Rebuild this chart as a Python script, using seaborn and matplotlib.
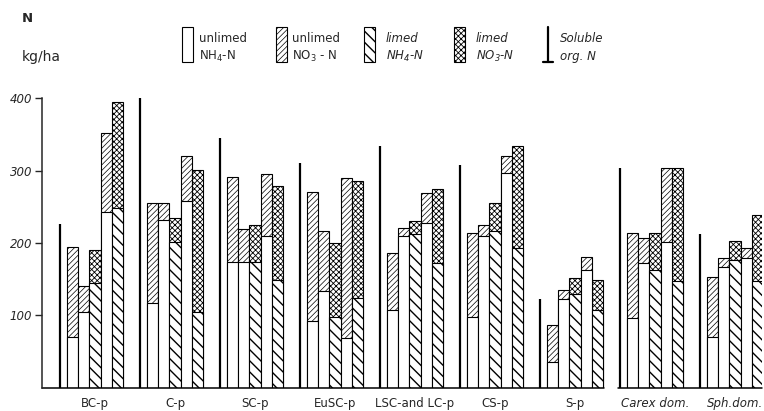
import numpy as np
import pandas as pd
import matplotlib
matplotlib.use("Agg")
import matplotlib.pyplot as plt
import seaborn as sns
from matplotlib.patches import Rectangle
from matplotlib.lines import Line2D

# sites along the x axis
sites = ["BC-p", "C-p", "SC-p", "EuSC-p", "LSC-and LC-p", "CS-p", "S-p",
         "Carex dom.", "Sph.dom."]

# soluble organic N (the plain vertical line in front of each group)
org_n = [226, 401, 345, 311, 334, 308, 123, 303, 213]

# five bars per site; treatment of each bar slot
treatment = ["unlimed", "unlimed", "limed", "unlimed", "limed"]

# NH4-N (lower part of each bar), one list per bar slot
nh4 = [
    [70, 117, 173, 92, 107, 98, 36, 96, 70],
    [105, 232, 173, 134, 209, 209, 122, 172, 167],
    [144, 202, 173, 98, 213, 217, 129, 163, 176],
    [243, 258, 209, 69, 227, 297, 163, 202, 179],
    [248, 104, 149, 124, 172, 193, 107, 148, 147],
]
# NH4-N + NO3-N (top of each bar)
total = [
    [195, 255, 291, 271, 186, 214, 87, 214, 153],
    [140, 255, 219, 216, 220, 225, 135, 207, 179],
    [190, 235, 225, 200, 230, 255, 151, 214, 203],
    [352, 320, 295, 290, 269, 320, 180, 304, 193],
    [395, 301, 279, 285, 275, 334, 149, 304, 239],
]

rows = []
for k in range(len(treatment)):
    for i, s in enumerate(sites):
        rows.append({"site": s, "slot": k, "nh4": nh4[k][i], "total": total[k][i]})
df = pd.DataFrame(rows)

sns.set_style("white")
plt.rcParams["font.family"] = ["DejaVu Sans"]
plt.rcParams["hatch.linewidth"] = 0.7
plt.rcParams["mathtext.default"] = "regular"

W, H = 764, 411
fig = plt.figure(figsize=(W / 100, H / 100), dpi=100)
ax = fig.add_axes([42 / W, 23.4 / H, 720 / W, 289.3 / H])

pal = {k: "white" for k in range(len(treatment))}
hatch_top = {"unlimed": "//////", "limed": "xxxxxx"}
hatch_bottom = {"unlimed": "", "limed": "\\\\\\"}
hatch_lw = {"//////": 0.5, "xxxxxx": 0.6, "\\\\\\": 1.0, "": 0.7}


def style_patch(p, hatch):
    p.set_hatch(hatch)
    if hasattr(p, "set_hatch_linewidth"):
        p.set_hatch_linewidth(hatch_lw[hatch])


def slot_of(p):
    xc = p.get_x() + p.get_width() / 2
    off = xc - round(xc)
    return int(round((off + 0.28) / 0.14))


def draw_layer(col, hatches):
    n0 = len(ax.patches)
    sns.barplot(data=df, x="site", y=col, hue="slot", dodge=True, width=0.7,
                gap=0, palette=pal, saturation=1, edgecolor="black",
                linewidth=0.8, errorbar=None, legend=False, ax=ax)
    for p in ax.patches[n0:]:
        style_patch(p, hatches[treatment[slot_of(p)]])


draw_layer("total", hatch_top)
draw_layer("nh4", hatch_bottom)

# soluble organic N lines
ax.vlines(np.arange(len(sites)) - 0.44, 0, org_n, color="black", linewidth=1.6)

ax.set_xlim(-0.6625, 8.3375)
ax.set_ylim(0, 400)
sns.despine(ax=ax, top=True, right=True, bottom=True)
ax.spines["left"].set_linewidth(1.1)
ax.plot([-0.6625, 6.36], [0, 0], color="black", lw=1.1, clip_on=False)
ax.plot([6.54, 8.3375], [0, 0], color="black", lw=1.1, clip_on=False)

ax.set_yticks([100, 200, 300, 400])
ax.tick_params(axis="y", direction="out", length=5, width=1, labelsize=8.5, pad=2,
               left=True)
for t in ax.get_yticklabels():
    t.set_fontstyle("italic")
ax.tick_params(axis="x", length=0, pad=7, labelsize=8.5)
for t in ax.get_xticklabels():
    if t.get_text() in ("Carex dom.", "Sph.dom."):
        t.set_fontstyle("italic")
ax.set_xlabel("")
ax.set_ylabel("")

# units
fig.text(22 / W, 1 - 18 / H, "N", fontsize=9.5, fontweight="bold", va="center")
fig.text(22 / W, 1 - 57 / H, "kg/ha", fontsize=10, va="center")


# hand-made legend
def leg_box(x, hatch):
    r = Rectangle((x / W, 1 - 62 / H), 11 / W, 35 / H,
                  transform=fig.transFigure, facecolor="white",
                  edgecolor="black", linewidth=0.8)
    style_patch(r, hatch)
    fig.add_artist(r)


def leg_text(x, l1, l2, style="normal"):
    fig.text(x / W, 1 - 39 / H, l1, fontsize=8.5, va="center", style=style)
    fig.text(x / W, 1 - 56 / H, l2, fontsize=8.5, va="center", style=style)


leg_box(182, "")
leg_text(199, "unlimed", "NH$_4$-N")
leg_box(276, "//////")
leg_text(292, "unlimed", "NO$_3$ - N")
leg_box(364, "\\\\\\")
leg_text(386, "limed", "NH$_4$-N", style="italic")
leg_box(454, "xxxxxx")
leg_text(476, "limed", "NO$_3$-N", style="italic")
fig.add_artist(Line2D([548 / W, 548 / W], [1 - 27 / H, 1 - 62 / H],
                      transform=fig.transFigure, color="black", lw=1.6))
fig.add_artist(Line2D([543 / W, 553 / W], [1 - 62 / H, 1 - 62 / H],
                      transform=fig.transFigure, color="black", lw=1.6))
leg_text(560, "Soluble", "org. N", style="italic")

fig.savefig("out.png", dpi=100, facecolor="white")
